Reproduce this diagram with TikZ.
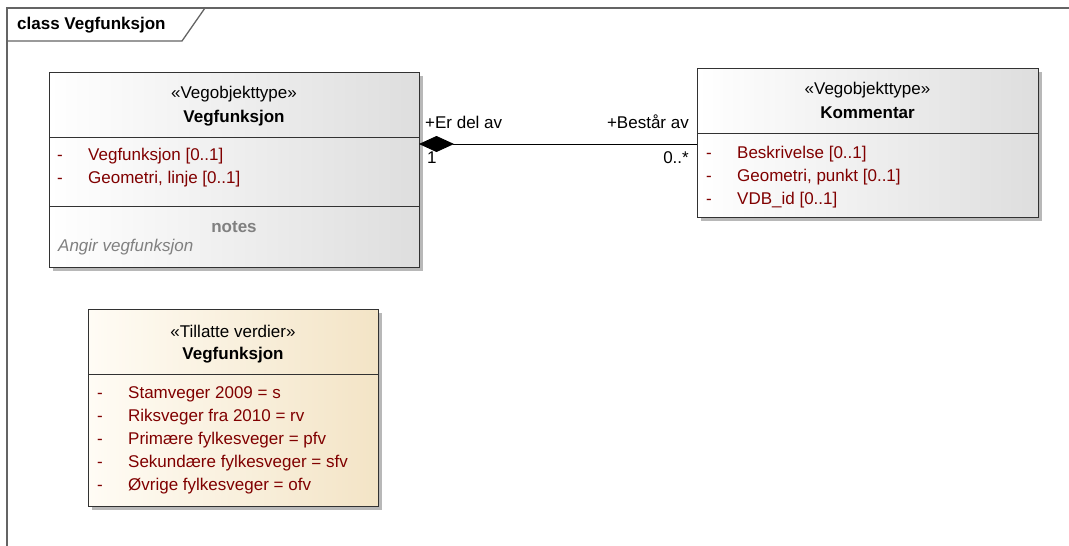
\documentclass[tikz,border=0pt]{standalone}
\usepackage{fontspec}
\setmainfont{Liberation Sans}
\usetikzlibrary{arrows.meta,shadows}
\definecolor{attrred}{RGB}{128,0,0}
\definecolor{notegray}{RGB}{128,128,128}
\definecolor{framegray}{RGB}{100,100,100}
\definecolor{boxline}{RGB}{50,50,50}
\definecolor{creamL}{RGB}{255,252,245}
\definecolor{creamR}{RGB}{243,228,198}
\tikzset{
  classbox/.style={draw=boxline, line width=0.9pt, inner sep=0pt, outer sep=0pt,
    drop shadow={shadow xshift=4pt, shadow yshift=-4pt, fill=black!28, opacity=1}},
  greybox/.style={classbox, left color=white, right color=black!13},
  creambox/.style={classbox, left color=creamL, right color=creamR},
  divider/.style={draw=boxline, line width=0.9pt},
  stereo/.style={anchor=base, inner sep=0pt},
  cname/.style={anchor=base, inner sep=0pt, font=\fontsize{17}{20}\selectfont\bfseries},
  attr/.style={anchor=base west, inner sep=0pt, text=attrred},
  lbl/.style={anchor=base west, inner sep=0pt},
  rlbl/.style={anchor=base east, inner sep=0pt},
  assoc/.style={draw=black, line width=0.9pt, -{Diamond[length=35pt,width=16pt,fill=black]}},
}
\begin{document}
\begin{tikzpicture}[x=1pt, y=-1pt, font=\fontsize{17}{20}\selectfont]
\useasboundingbox (0,0) rectangle (1069,546);

% diagram frame with its name tab
\draw[framegray, line width=1.3pt] (7,560) -- (7,8) -- (1080,8);
\draw[framegray, line width=1.3pt] (7,41) -- (182,41) -- (205,8);
\node[lbl, font=\fontsize{17}{20}\selectfont\bfseries] (frametitle) at (17,30) {class Vegfunksjon};

% class Vegfunksjon
\node[greybox, minimum width=370pt, minimum height=195pt] (vf) at (234,169.5) {};
\draw[divider] (vf.west |- 0,137) -- (vf.east |- 0,137);
\draw[divider] (vf.west |- 0,206) -- (vf.east |- 0,206);
\node[stereo] (vfst) at (234,98) {«Vegobjekttype»};
\node[cname] (vfname) at (234,122) {Vegfunksjon};
\node[attr] (vfd1) at (57,160) {-};
\node[attr] (vfa1) at (88,160) {Vegfunksjon [0..1]};
\node[attr] (vfd2) at (57,183) {-};
\node[attr] (vfa2) at (88,183) {Geometri, linje [0..1]};
\node[anchor=base, inner sep=0pt, text=notegray, font=\fontsize{17}{20}\selectfont\bfseries] (vfnotes) at (234,232) {notes};
\node[lbl, text=notegray, font=\fontsize{17}{20}\selectfont\itshape] (vfnote) at (58,251) {Angir vegfunksjon};

% class Kommentar
\node[greybox, minimum width=341pt, minimum height=149pt] (km) at (867.5,142.5) {};
\draw[divider] (km.west |- 0,133) -- (km.east |- 0,133);
\node[stereo] (kmst) at (867.5,94) {«Vegobjekttype»};
\node[cname] (kmname) at (867.5,118) {Kommentar};
\node[attr] (kmd1) at (706,158) {-};
\node[attr] (kma1) at (737,158) {Beskrivelse [0..1]};
\node[attr] (kmd2) at (706,181) {-};
\node[attr] (kma2) at (737,181) {Geometri, punkt [0..1]};
\node[attr] (kmd3) at (706,204) {-};
\node[attr] (kma3) at (737,204) {VDB\_id [0..1]};

% enumeration Vegfunksjon
\node[creambox, minimum width=290pt, minimum height=197pt] (tv) at (233,407.5) {};
\draw[divider] (tv.west |- 0,374) -- (tv.east |- 0,374);
\node[stereo] (tvst) at (233,337) {«Tillatte verdier»};
\node[cname] (tvname) at (233,359) {Vegfunksjon};
\node[attr] (tvd1) at (97,398) {-};
\node[attr] (tva1) at (128,398) {Stamveger 2009 = s};
\node[attr] (tvd2) at (97,421) {-};
\node[attr] (tva2) at (128,421) {Riksveger fra 2010 = rv};
\node[attr] (tvd3) at (97,444) {-};
\node[attr] (tva3) at (128,444) {Primære fylkesveger = pfv};
\node[attr] (tvd4) at (97,467) {-};
\node[attr] (tva4) at (128,467) {Sekundære fylkesveger = sfv};
\node[attr] (tvd5) at (97,490) {-};
\node[attr] (tva5) at (128,490) {Øvrige fylkesveger = ofv};

% composition Kommentar -> Vegfunksjon
\draw[assoc] (km.west |- 0,144) -- (vf.east |- 0,144);
\node[lbl] (role1) at (425,128) {+Er del av};
\node[rlbl] (role2) at (689,128) {+Består av};
\node[lbl] (mult1) at (427,163) {1};
\node[rlbl] (mult2) at (689,163) {0..*};
\end{tikzpicture}
\end{document}
